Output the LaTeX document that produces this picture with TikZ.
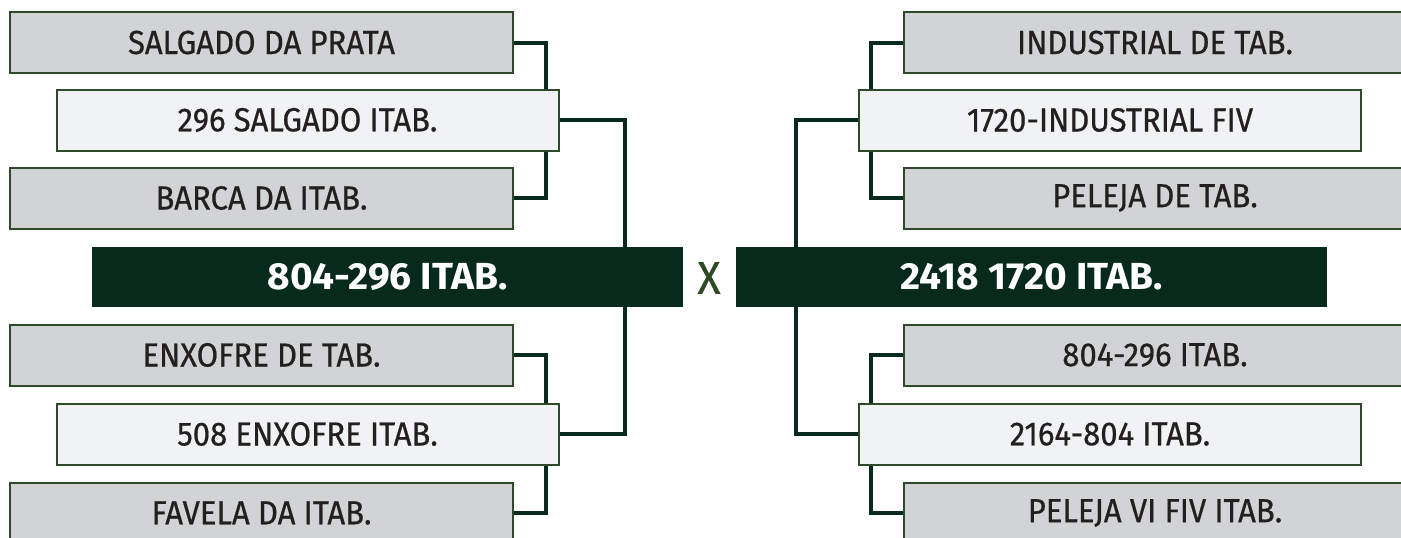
\documentclass[tikz,border=0pt]{standalone}
\usepackage{fontspec}
\setmainfont[FakeStretch=0.93, FakeBold=0.6]{Fira Sans}
\newfontfamily\brkheavy[FakeStretch=1.03]{Fira Sans}
\usetikzlibrary{positioning}
\definecolor{brkInk}{HTML}{231F20}
\definecolor{brkDark}{HTML}{082A1C}
\definecolor{brkEdge}{HTML}{2F4A2A}
\definecolor{brkGray}{HTML}{D1D3D4}
\definecolor{brkLight}{HTML}{F1F2F3}
\definecolor{brkGreen}{HTML}{2E4A25}
\pgfdeclarelayer{background}
\pgfsetlayers{background,main}
\tikzset{
  every picture/.style={font=\fontsize{33.4}{36}\selectfont, text=brkInk},
  brk side/.style={draw=brkEdge, line width=2pt, fill=brkGray,
    minimum width=503pt, minimum height=61pt, inner sep=0pt},
  brk semi/.style={brk side, fill=brkLight, minimum width=502pt, minimum height=61pt},
  brk final/.style={fill=brkDark, text=white, inner sep=0pt,
    font=\brkheavy\bfseries\fontsize{37.7}{40}\selectfont, minimum height=60pt},
  brk link/.style={draw=brkDark, line width=4pt}
}

\begin{document}
\begin{tikzpicture}[x=1pt,y=-1pt]
  \useasboundingbox (0,0) rectangle (1401,538);
  \clip (0,0) rectangle (1401,538);
  % left half
  \node[brk side] (salgado) at (261.5,42.5) {SALGADO DA PRATA};
  \node[brk side] (barca) at (261.5,198) {BARCA DA ITAB.};
  \node[brk side] (enxofre) at (261.5,355) {ENXOFRE DE TAB.};
  \node[brk side] (favela) at (261.5,513) {FAVELA DA ITAB.};
  \node[brk semi] (s296) at (307.5,120) {296 SALGADO ITAB.};
  \node[brk semi] (e508) at (307.5,434) {508 ENXOFRE ITAB.};
  \node[brk final, minimum width=591pt] (left) at (387.5,277) {804-296 ITAB.};
  % right half
  \node[brk side] (industrial) at (1155,42.5) {INDUSTRIAL DE TAB.};
  \node[brk side] (peleja) at (1155,198) {PELEJA DE TAB.};
  \node[brk side] (itab804) at (1155,355) {804-296 ITAB.};
  \node[brk side] (pelejavi) at (1155,513) {PELEJA VI FIV ITAB.};
  \node[brk semi] (i1720) at (1110,120) {1720-INDUSTRIAL FIV};
  \node[brk semi] (i2164) at (1110,434) {2164-804 ITAB.};
  \node[brk final, minimum width=591pt] (right) at (1031.5,277) {2418 1720 ITAB.};
  \node[text=brkGreen, font=\fontsize{46}{48}\selectfont] (versus) at (709,278) {X};
  \begin{pgfonlayer}{background}
    \draw[brk link] (salgado.east) -- ++(32,0) |- (barca.east);
    \draw[brk link] (enxofre.east) -- ++(32,0) |- (favela.east);
    \draw[brk link] (s296.east) -- ++(65,0) |- (e508.east);
    \draw[brk link] (industrial.west) -- ++(-32,0) |- (peleja.west);
    \draw[brk link] (itab804.west) -- ++(-32,0) |- (pelejavi.west);
    \draw[brk link] (i1720.west) -- ++(-62,0) |- (i2164.west);
  \end{pgfonlayer}
\end{tikzpicture}
\end{document}
